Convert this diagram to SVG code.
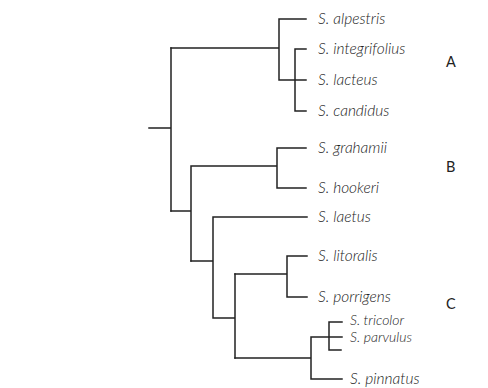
<svg xmlns="http://www.w3.org/2000/svg" width="488" height="388" viewBox="0 0 488 388">
<style>
.e{stroke:#222;stroke-width:1.5;fill:none;stroke-linecap:square}
.t{font-family:Lato,"Liberation Sans",sans-serif;font-style:italic;font-weight:300;font-size:15.5px;fill:#222}
.s{font-size:14px}
.g{font-family:Lato,"Liberation Sans",sans-serif;font-size:14.5px;fill:#222}
</style>
<rect width="488" height="388" fill="#fff"/>
<g id="connectors" class="e">
<path d="M149 128H171M171 48V211"/>
<path d="M171 48H279M279 19V80M279 19H306M279 80H306M295 49V111M295 49H306M295 111H306"/>
<path d="M171 211H191M191 166V261M191 166H277M277 148V188M277 148H306M277 188H306"/>
<path d="M191 261H213M213 217V318M213 217H307M213 318H235M235 274V358"/>
<path d="M235 274H287M287 256V297M287 256H307M287 297H307"/>
<path d="M235 358H311M311 337V379M311 337H342M311 379H342M329 322V350M329 322H342M329 350H341"/>
</g>
<g id="n-alpestris"><text class="t" x="318" y="24">S. alpestris</text></g>
<g id="n-integrifolius"><text class="t" x="318" y="54">S. integrifolius</text></g>
<g id="n-lacteus"><text class="t" x="318" y="85">S. lacteus</text></g>
<g id="n-candidus"><text class="t" x="318" y="116">S. candidus</text></g>
<g id="n-grahamii"><text class="t" x="318" y="153">S. grahamii</text></g>
<g id="n-hookeri"><text class="t" x="318" y="193">S. hookeri</text></g>
<g id="n-laetus"><text class="t" x="318" y="222">S. laetus</text></g>
<g id="n-litoralis"><text class="t" x="318" y="261">S. litoralis</text></g>
<g id="n-porrigens"><text class="t" x="318" y="302">S. porrigens</text></g>
<g id="n-tricolor"><text class="t s" x="350" y="325">S. tricolor</text></g>
<g id="n-parvulus"><text class="t s" x="350" y="342">S. parvulus</text></g>
<g id="n-pinnatus"><text class="t" x="350" y="384">S. pinnatus</text></g>
<g id="grp-A"><text class="g" x="446" y="67">A</text></g>
<g id="grp-B"><text class="g" x="446" y="172">B</text></g>
<g id="grp-C"><text class="g" x="446" y="309">C</text></g>
</svg>
